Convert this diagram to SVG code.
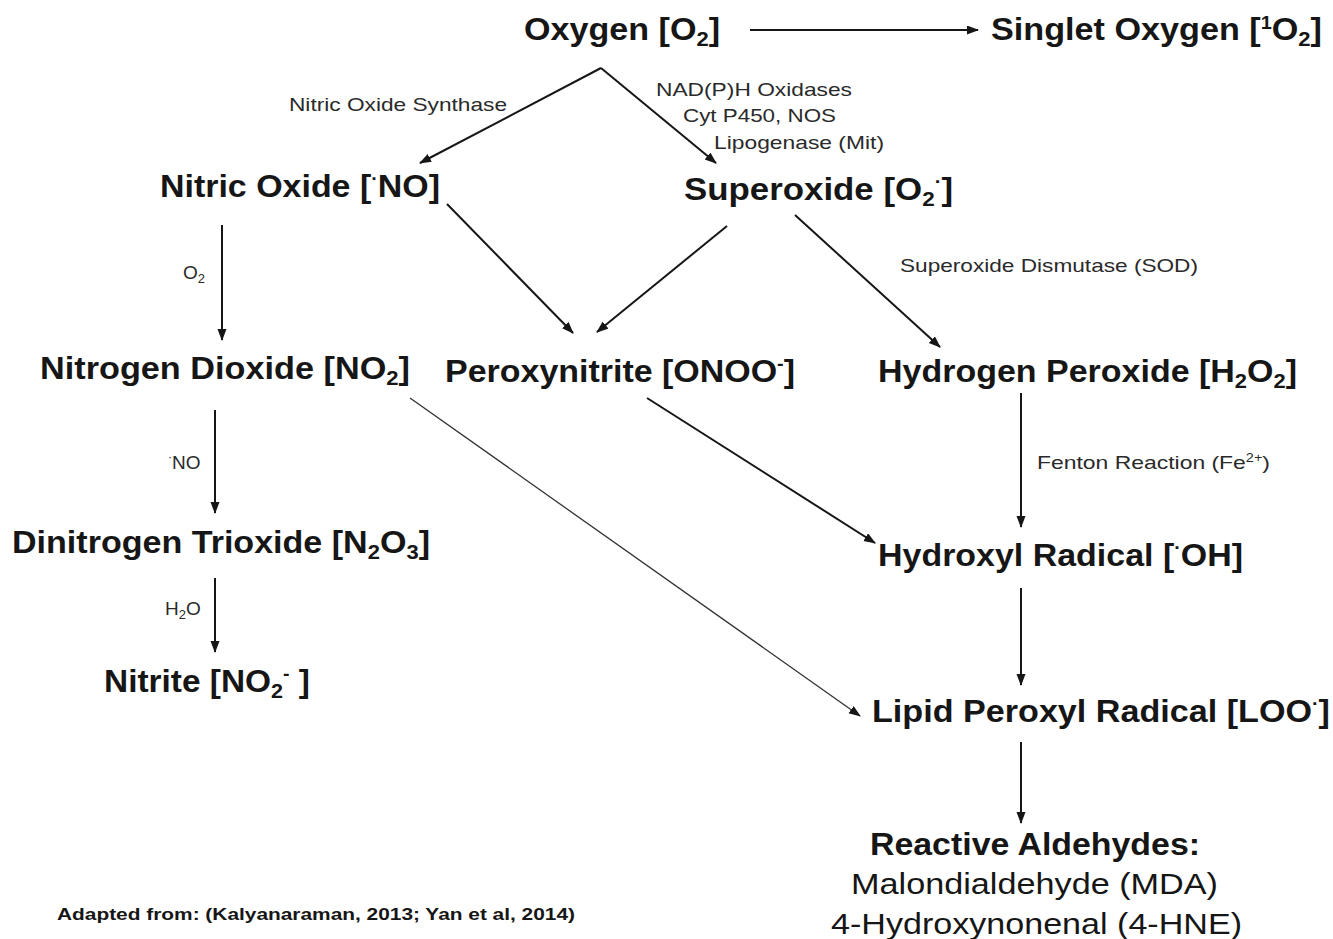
<svg xmlns="http://www.w3.org/2000/svg" width="1333" height="939" viewBox="0 0 1333 939">
<style>
.b{font-family:"Liberation Sans",Arial,sans-serif;font-weight:bold;font-size:31px;fill:#161616}
.r{font-family:"Liberation Sans",Arial,sans-serif;font-size:30px;fill:#161616}
.s{font-family:"Liberation Sans",Arial,sans-serif;font-size:19px;fill:#2a2a2a}
.c{font-family:"Liberation Sans",Arial,sans-serif;font-weight:bold;font-size:17px;fill:#161616}
.ln{stroke:#161616;stroke-width:2;fill:none;marker-end:url(#ah)}
.thin{stroke:#333;stroke-width:1.3;fill:none;marker-end:url(#ah)}
</style>
<defs>
<marker id="ah" markerUnits="userSpaceOnUse" markerWidth="12" markerHeight="10" refX="11" refY="4.5" orient="auto">
<path d="M0,0 L12,4.5 L0,9 z" fill="#161616"/>
</marker>
</defs>
<rect width="1333" height="939" fill="#ffffff"/>
<g id="connectors">
<line class="ln" x1="750" y1="30" x2="978" y2="30"/>
<polyline class="ln" points="601,68 420,163" />
<line class="ln" x1="601" y1="68" x2="716" y2="163"/>
<line class="ln" x1="222" y1="225" x2="222" y2="340"/>
<line class="ln" x1="447" y1="204" x2="573" y2="333"/>
<line class="ln" x1="727" y1="226" x2="597" y2="332"/>
<line class="ln" x1="795" y1="215" x2="940" y2="347"/>
<line class="ln" x1="215" y1="410" x2="215" y2="513"/>
<line class="ln" x1="215" y1="578" x2="215" y2="652"/>
<line class="thin" x1="410" y1="398" x2="860" y2="716"/>
<line class="ln" x1="647" y1="398" x2="875" y2="543"/>
<line class="ln" x1="1021" y1="393" x2="1021" y2="527"/>
<line class="ln" x1="1021" y1="588" x2="1021" y2="685"/>
<line class="ln" x1="1021" y1="742" x2="1021" y2="823"/>
</g>
<g id="edge-labels">
<text class="s" x="289" y="111" textLength="218" lengthAdjust="spacingAndGlyphs">Nitric Oxide Synthase</text>
<text class="s" x="656" y="96" textLength="196" lengthAdjust="spacingAndGlyphs">NAD(P)H Oxidases</text>
<text class="s" x="683" y="122" textLength="153" lengthAdjust="spacingAndGlyphs">Cyt P450, NOS</text>
<text class="s" x="714" y="149" textLength="170" lengthAdjust="spacingAndGlyphs">Lipogenase (Mit)</text>
<text class="s" x="183" y="279">O<tspan font-size="13" dy="4">2</tspan></text>
<text class="s" x="168" y="469"><tspan font-size="12" dy="-8">·</tspan><tspan dy="8">NO</tspan></text>
<text class="s" x="165" y="615">H<tspan font-size="13" dy="4">2</tspan><tspan dy="-4">O</tspan></text>
<text class="s" x="900" y="272" textLength="298" lengthAdjust="spacingAndGlyphs">Superoxide Dismutase (SOD)</text>
<text class="s" x="1037" y="469" textLength="233" lengthAdjust="spacingAndGlyphs">Fenton Reaction (Fe<tspan font-size="12" dy="-7">2+</tspan><tspan dy="7">)</tspan></text>
</g>
<g id="oxygen"><text class="b" x="524" y="40" textLength="196" lengthAdjust="spacingAndGlyphs">Oxygen [O<tspan font-size="20" dy="6">2</tspan><tspan dy="-6">]</tspan></text></g>
<g id="singlet-oxygen"><text class="b" x="991" y="40" textLength="331" lengthAdjust="spacingAndGlyphs">Singlet Oxygen [<tspan font-size="18" dy="-11">1</tspan><tspan dy="11">O</tspan><tspan font-size="20" dy="6">2</tspan><tspan dy="-6">]</tspan></text></g>
<g id="nitric-oxide"><text class="b" x="160" y="197" textLength="280" lengthAdjust="spacingAndGlyphs">Nitric Oxide [<tspan font-size="18" dy="-12">·</tspan><tspan dy="12">NO]</tspan></text></g>
<g id="superoxide"><text class="b" x="684" y="200" textLength="269" lengthAdjust="spacingAndGlyphs">Superoxide [O<tspan font-size="20" dy="6">2</tspan><tspan font-size="18" dy="-18">·</tspan><tspan dy="12">]</tspan></text></g>
<g id="nitrogen-dioxide"><text class="b" x="40" y="379" textLength="370" lengthAdjust="spacingAndGlyphs">Nitrogen Dioxide [NO<tspan font-size="20" dy="6">2</tspan><tspan dy="-6">]</tspan></text></g>
<g id="peroxynitrite"><text class="b" x="445" y="382" textLength="350" lengthAdjust="spacingAndGlyphs">Peroxynitrite [ONOO<tspan font-size="18" dy="-12">-</tspan><tspan dy="12">]</tspan></text></g>
<g id="hydrogen-peroxide"><text class="b" x="878" y="382" textLength="419" lengthAdjust="spacingAndGlyphs">Hydrogen Peroxide [H<tspan font-size="20" dy="6">2</tspan><tspan dy="-6">O</tspan><tspan font-size="20" dy="6">2</tspan><tspan dy="-6">]</tspan></text></g>
<g id="dinitrogen-trioxide"><text class="b" x="12" y="553" textLength="418" lengthAdjust="spacingAndGlyphs">Dinitrogen Trioxide [N<tspan font-size="20" dy="6">2</tspan><tspan dy="-6">O</tspan><tspan font-size="20" dy="6">3</tspan><tspan dy="-6">]</tspan></text></g>
<g id="nitrite"><text class="b" x="104" y="692" textLength="206" lengthAdjust="spacingAndGlyphs">Nitrite [NO<tspan font-size="20" dy="6">2</tspan><tspan font-size="18" dy="-18">-</tspan><tspan dy="12"> ]</tspan></text></g>
<g id="hydroxyl-radical"><text class="b" x="878" y="566" textLength="365" lengthAdjust="spacingAndGlyphs">Hydroxyl Radical [<tspan font-size="18" dy="-12">·</tspan><tspan dy="12">OH]</tspan></text></g>
<g id="lipid-peroxyl-radical"><text class="b" x="872" y="722" textLength="458" lengthAdjust="spacingAndGlyphs">Lipid Peroxyl Radical [LOO<tspan font-size="18" dy="-12">·</tspan><tspan dy="12">]</tspan></text></g>
<g id="reactive-aldehydes">
<text class="b" x="870" y="855" textLength="330" lengthAdjust="spacingAndGlyphs">Reactive Aldehydes:</text>
<text class="r" x="851" y="894" textLength="367" lengthAdjust="spacingAndGlyphs">Malondialdehyde (MDA)</text>
<text class="r" x="831" y="934" textLength="411" lengthAdjust="spacingAndGlyphs">4-Hydroxynonenal (4-HNE)</text>
</g>
<g id="citation"><text class="c" x="57" y="920" textLength="518" lengthAdjust="spacingAndGlyphs">Adapted from: (Kalyanaraman, 2013; Yan et al, 2014)</text></g>
</svg>
